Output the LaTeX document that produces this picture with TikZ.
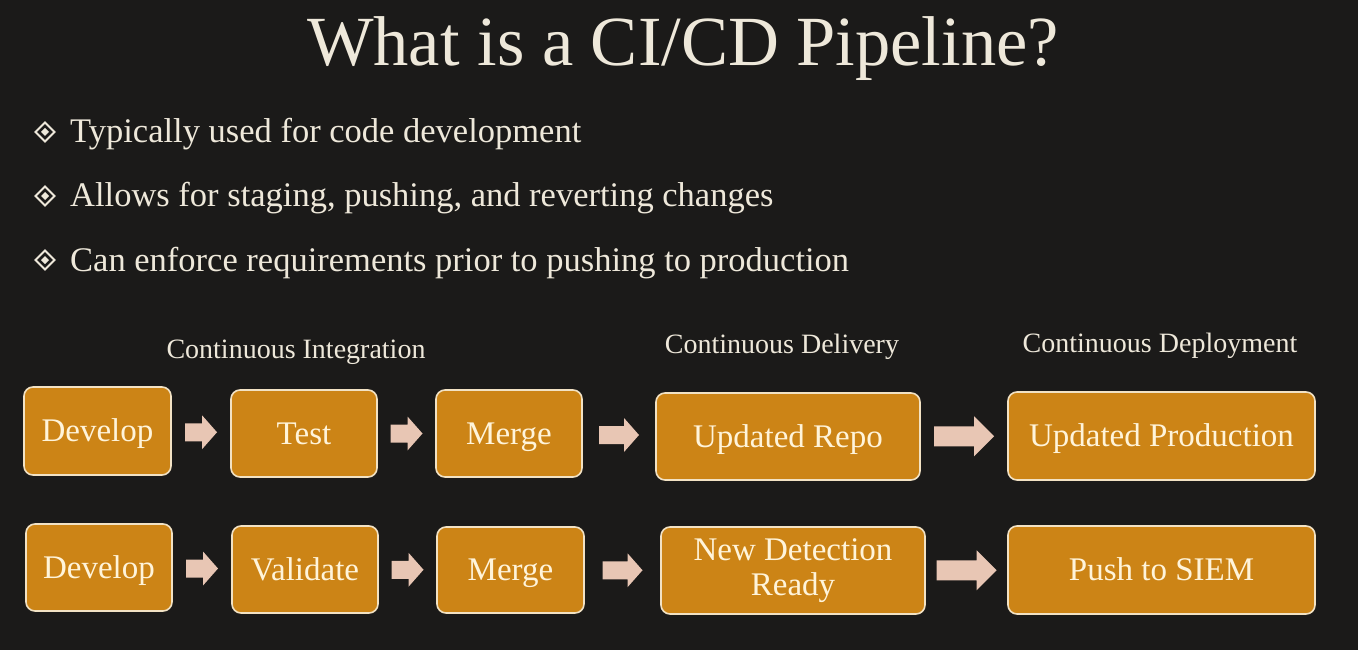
\documentclass[tikz,border=0pt]{standalone}
\usepackage{fontspec}
\setmainfont{Liberation Serif}
\usetikzlibrary{calc}
\definecolor{bgc}{HTML}{1B1A19}
\definecolor{boxc}{HTML}{CC8416}
\definecolor{edgec}{HTML}{F2E2C4}
\definecolor{txtc}{HTML}{FFF4DA}
\definecolor{headc}{HTML}{EEE8DA}
\definecolor{arrc}{HTML}{E8C6B4}
\tikzset{
  x=1pt, y=-1pt,
  stepbox/.style={draw=edgec, line width=1.6pt, fill=boxc, rounded corners=9pt,
    text=txtc, align=center, inner sep=0pt, text height=21.5pt, text depth=0pt,
    font=\fontsize{33}{35}\selectfont},
  headtxt/.style={text=headc, anchor=base, inner sep=0pt, font=\fontsize{28}{32}\selectfont},
  bullettxt/.style={text=headc, anchor=base west, inner sep=0pt, font=\fontsize{34.5}{38}\selectfont},
  blkarrow/.pic={
    \fill[arrc] (-#1/2,-9) -- (#1/2-15,-9) -- (#1/2-15,-17) -- (#1/2,0)
      -- (#1/2-15,17) -- (#1/2-15,9) -- (-#1/2,9) -- cycle;
  },
  bigarrow/.pic={
    \fill[arrc] (-30,-10) -- (10,-10) -- (10,-20) -- (30,0)
      -- (10,20) -- (10,10) -- (-30,10) -- cycle;
  },
  bulletmark/.pic={
    \draw[headc, line width=1.8pt] (-9.5,0) -- (0,-9.5) -- (9.5,0) -- (0,9.5) -- cycle;
    \fill[headc] (-4,0) -- (0,-4) -- (4,0) -- (0,4) -- cycle;
  }
}
\begin{document}
\begin{tikzpicture}
\fill[bgc] (0,0) rectangle (1358,650);
\useasboundingbox (0,0) rectangle (1358,650);

% title
\node[text=headc, anchor=base, inner sep=0pt, font=\fontsize{70.5}{80}\selectfont] (title) at (683,66) {What is a CI/CD Pipeline?};

% bullets
\pic at (45,132) {bulletmark};
\node[bullettxt] (b1) at (70,143) {Typically used for code development};
\pic at (45,196) {bulletmark};
\node[bullettxt] (b2) at (70,207) {Allows for staging, pushing, and reverting changes};
\pic at (45,260) {bulletmark};
\node[bullettxt] (b3) at (70,271) {Can enforce requirements prior to pushing to production};

% headings
\node[headtxt] (h1) at (296,358) {Continuous Integration};
\node[headtxt] (h2) at (782,353) {Continuous Delivery};
\node[headtxt] (h3) at (1160,352) {Continuous Deployment};

% row 1
\node[stepbox, minimum width=147, minimum height=88] (d1) at (97.5,431) {Develop};
\node[stepbox, minimum width=146, minimum height=87] (t1) at (304,433.5) {Test};
\node[stepbox, minimum width=146, minimum height=87] (m1) at (509,433.5) {Merge};
\node[stepbox, minimum width=264, minimum height=87] (r1) at (788,436.5) {Updated Repo};
\node[stepbox, minimum width=307, minimum height=88] (p1) at (1161.5,436) {Updated Production};

% row 2
\node[stepbox, minimum width=146, minimum height=87] (d2) at (99,567.5) {Develop};
\node[stepbox, minimum width=146, minimum height=87] (v2) at (305,569.5) {Validate};
\node[stepbox, minimum width=147, minimum height=86] (m2) at (510.5,570) {Merge};
\node[stepbox, text height={}, text depth={}, minimum width=264, minimum height=87] (n2) at (793,570.5) {New Detection\\Ready};
\node[stepbox, minimum width=307, minimum height=88] (s2) at (1161.5,570) {Push to SIEM};

% arrows row 1
\pic at ($(d1.east)!0.5!(t1.west)$) {blkarrow=32};
\pic at ($(t1.east)!0.5!(m1.west)$) {blkarrow=32};
\pic at ($(m1.east)!0.5!(r1.west)$) {blkarrow=40};
\pic at ($(r1.east)!0.5!(p1.west)$) {bigarrow};
% arrows row 2
\pic at ($(d2.east)!0.5!(v2.west)$) {blkarrow=32};
\pic at ($(v2.east)!0.5!(m2.west)$) {blkarrow=32};
\pic at ($(m2.east)!0.5!(n2.west)$) {blkarrow=40};
\pic at ($(n2.east)!0.5!(s2.west)$) {bigarrow};
\end{tikzpicture}
\end{document}
